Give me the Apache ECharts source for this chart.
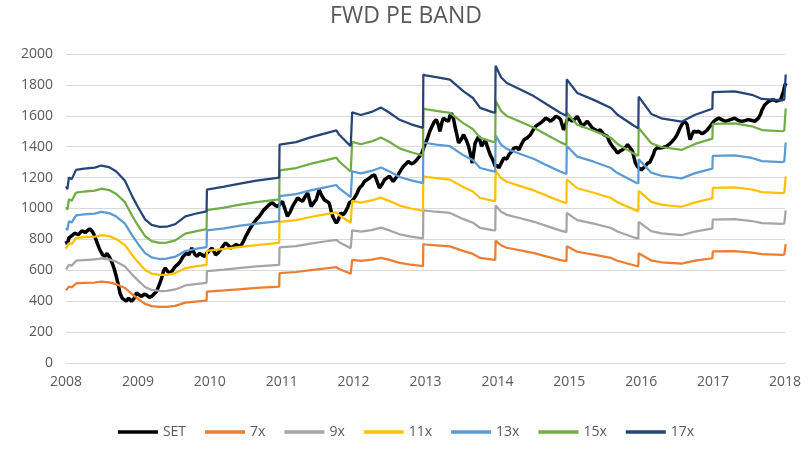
<!DOCTYPE html>
<html>
<head>
<meta charset="utf-8">
<script src="https://cdn.jsdelivr.net/npm/echarts@6/dist/echarts.min.js"></script>
<style>html,body{margin:0;padding:0;background:#fff}#c{width:812px;height:452px}</style>
</head>
<body>
<div id="c"></div>
<script>
const epsX = [2008.00,2008.02,2008.04,2008.08,2008.14,2008.25,2008.40,2008.49,2008.60,2008.70,2008.82,2008.92,2009.00,2009.10,2009.19,2009.30,2009.40,2009.52,2009.66,2009.80,2009.955,2009.96,2010.20,2010.40,2010.65,2010.965,2010.97,2011.20,2011.40,2011.62,2011.76,2011.80,2011.96,2011.975,2011.98,2012.10,2012.25,2012.38,2012.50,2012.64,2012.80,2012.965,2012.97,2013.00,2013.15,2013.34,2013.53,2013.66,2013.76,2013.93,2013.97,2013.975,2014.05,2014.13,2014.32,2014.51,2014.69,2014.88,2014.96,2014.965,2015.11,2015.34,2015.58,2015.67,2015.91,2015.96,2015.965,2016.14,2016.28,2016.56,2016.75,2016.99,2016.995,2017.30,2017.54,2017.68,2017.96,2017.99,2018.01];
const eps  = [67.2,66.2,70.6,70.0,73.5,74.0,74.4,75.2,74.6,72.9,69.4,63.5,59.4,54.7,52.6,51.8,51.9,52.9,55.8,56.8,57.7,66.0,67.1,68.2,69.4,70.6,83.1,84.1,85.9,87.5,88.6,86.9,82.5,82.4,95.4,94.4,95.6,97.3,95.3,92.6,90.9,89.5,109.8,109.5,108.8,107.9,103.4,100.9,97.1,95.5,95.3,113.2,108.8,106.6,104.1,101.5,98.4,95.2,94.1,108.0,102.8,100.2,97.1,94.5,90.1,89.4,101.4,94.8,93.2,91.9,94.5,96.8,103.1,103.4,102.1,100.5,100.0,100.3,109.8];
const multiples = [7, 9, 11, 13, 15, 17];

// SET index (decimal year, level)
const setX = [2008.00,2008.02,2008.04,2008.07,2008.12,2008.17,2008.22,2008.27,2008.33,2008.37,2008.40,2008.44,2008.47,2008.51,2008.54,2008.57,2008.61,2008.64,2008.67,2008.70,2008.73,2008.75,2008.78,2008.80,2008.84,2008.87,2008.91,2008.95,2008.98,2009.02,2009.05,2009.09,2009.12,2009.16,2009.19,2009.23,2009.26,2009.30,2009.33,2009.36,2009.38,2009.42,2009.45,2009.49,2009.52,2009.56,2009.59,2009.63,2009.68,2009.71,2009.75,2009.79,2009.82,2009.86,2009.89,2009.93,2009.96,2010.00,2010.03,2010.06,2010.08,2010.12,2010.15,2010.19,2010.22,2010.26,2010.29,2010.33,2010.36,2010.40,2010.43,2010.47,2010.50,2010.55,2010.60,2010.65,2010.69,2010.75,2010.80,2010.84,2010.87,2010.91,2010.94,2010.98,2011.01,2011.05,2011.08,2011.12,2011.15,2011.19,2011.22,2011.26,2011.29,2011.33,2011.36,2011.39,2011.41,2011.45,2011.48,2011.52,2011.55,2011.59,2011.63,2011.66,2011.69,2011.71,2011.74,2011.76,2011.79,2011.82,2011.86,2011.89,2011.92,2011.94,2011.98,2012.01,2012.05,2012.08,2012.12,2012.15,2012.20,2012.25,2012.29,2012.33,2012.36,2012.40,2012.43,2012.47,2012.50,2012.55,2012.59,2012.62,2012.66,2012.69,2012.73,2012.76,2012.80,2012.83,2012.87,2012.90,2012.95,2012.99,2013.02,2013.06,2013.09,2013.12,2013.15,2013.18,2013.20,2013.23,2013.25,2013.29,2013.32,2013.34,2013.36,2013.39,2013.41,2013.44,2013.46,2013.50,2013.53,2013.57,2013.60,2013.63,2013.65,2013.67,2013.69,2013.74,2013.78,2013.80,2013.83,2013.86,2013.90,2013.94,2013.97,2014.00,2014.02,2014.06,2014.09,2014.13,2014.16,2014.20,2014.23,2014.27,2014.30,2014.34,2014.37,2014.42,2014.46,2014.50,2014.53,2014.57,2014.60,2014.64,2014.67,2014.71,2014.74,2014.78,2014.81,2014.85,2014.88,2014.92,2014.94,2014.97,2015.00,2015.04,2015.08,2015.11,2015.15,2015.18,2015.22,2015.25,2015.29,2015.32,2015.36,2015.39,2015.43,2015.48,2015.53,2015.56,2015.60,2015.64,2015.67,2015.70,2015.74,2015.78,2015.81,2015.85,2015.88,2015.90,2015.92,2015.95,2015.97,2016.00,2016.02,2016.05,2016.09,2016.12,2016.14,2016.17,2016.19,2016.23,2016.26,2016.30,2016.35,2016.40,2016.43,2016.47,2016.50,2016.54,2016.59,2016.62,2016.64,2016.66,2016.68,2016.70,2016.73,2016.77,2016.80,2016.84,2016.87,2016.91,2016.94,2016.98,2017.01,2017.04,2017.08,2017.12,2017.17,2017.21,2017.24,2017.27,2017.30,2017.35,2017.40,2017.45,2017.49,2017.54,2017.58,2017.63,2017.66,2017.68,2017.72,2017.77,2017.80,2017.84,2017.88,2017.91,2017.94,2017.96,2017.98,2018.00,2018.02];
const setY = [790,770,810,820,840,830,855,845,869,850,820,770,733,700,690,710,680,650,610,560,500,453,420,410,400,420,399,420,453,440,431,445,440,425,431,450,463,510,550,600,615,590,582,605,625,640,658,690,712,700,744,705,690,710,700,690,712,730,744,720,700,715,733,760,777,760,744,755,766,760,755,790,820,863,900,930,949,990,1013,1030,1036,1020,1013,1030,1046,990,949,980,1013,1045,1068,1055,1046,1080,1100,1050,1013,1040,1057,1122,1090,1057,1045,1036,980,949,920,906,930,971,960,982,1010,1036,1050,1068,1100,1133,1150,1175,1190,1208,1219,1170,1133,1160,1186,1200,1208,1175,1200,1219,1250,1272,1290,1305,1290,1294,1310,1327,1359,1413,1445,1500,1531,1560,1575,1540,1500,1560,1585,1570,1565,1600,1618,1580,1531,1470,1424,1450,1478,1440,1402,1340,1294,1360,1424,1467,1402,1420,1445,1400,1348,1310,1272,1280,1262,1300,1327,1320,1348,1370,1391,1395,1380,1420,1445,1460,1478,1510,1531,1545,1553,1570,1585,1575,1565,1580,1596,1590,1575,1510,1525,1575,1580,1565,1580,1596,1560,1531,1550,1565,1540,1521,1510,1500,1510,1478,1467,1430,1402,1380,1359,1370,1380,1395,1413,1390,1370,1330,1294,1270,1262,1250,1240,1270,1294,1300,1305,1350,1380,1395,1391,1395,1402,1420,1434,1455,1478,1521,1564,1555,1542,1490,1445,1470,1500,1495,1500,1485,1489,1505,1521,1545,1564,1575,1585,1575,1564,1570,1575,1580,1585,1570,1564,1570,1575,1570,1564,1585,1610,1639,1672,1693,1700,1704,1695,1700,1705,1710,1760,1801,1810];

const seriesNames = ['SET', '7x', '9x', '11x', '13x', '15x', '17x'];
const seriesColors = ['#000000', '#ED7D31', '#A5A5A5', '#FFC000', '#5B9BD5', '#70AD47', '#264478'];
const yTicks = { min: 0, max: 2000, step: 200 };
const xTicks = { min: 2008, max: 2018, step: 1 };

const FONT = '"Open Sans", "Liberation Sans", sans-serif';
const series = [{
  name: 'SET', type: 'line', symbol: 'none', showSymbol: false, z: 2,
  data: setX.map((x, i) => [x, setY[i]]),
  lineStyle: { color: seriesColors[0], width: 3.5 }, itemStyle: { color: seriesColors[0] }
}];
multiples.forEach((m, k) => {
  series.push({
    name: seriesNames[k + 1], type: 'line', symbol: 'none', showSymbol: false, z: 3,
    data: epsX.map((x, i) => [x, Math.round(eps[i] * m)]),
    lineStyle: { color: seriesColors[k + 1], width: 2.25 }, itemStyle: { color: seriesColors[k + 1] }
  });
});

const chart = echarts.init(document.getElementById('c'), null, { renderer: 'canvas' });
chart.setOption({
  animation: false,
  backgroundColor: '#ffffff',
  title: {
    text: 'FWD PE BAND', left: 'center', top: 0,
    textStyle: { fontFamily: FONT, fontSize: 23, fontWeight: 'normal', color: '#595959' }
  },
  legend: {
    data: seriesNames.map(n => ({ name: n, icon: 'rect' })),
    bottom: 8, left: 'center', itemWidth: 40, itemHeight: 3.5, itemGap: 19,
    textStyle: { fontFamily: FONT, fontSize: 14, color: '#595959' }
  },
  grid: { left: 66, right: 27, top: 54, bottom: 89, containLabel: false },
  xAxis: {
    type: 'value', min: xTicks.min, max: xTicks.max, interval: xTicks.step,
    axisLine: { show: true, lineStyle: { color: '#D9D9D9' } },
    axisTick: { show: false },
    splitLine: { show: false },
    axisLabel: { margin: 12, fontFamily: FONT, fontSize: 14, color: '#595959', formatter: v => String(Math.round(v)) }
  },
  yAxis: {
    type: 'value', min: yTicks.min, max: yTicks.max, interval: yTicks.step,
    axisLine: { show: false }, axisTick: { show: false },
    splitLine: { lineStyle: { color: '#D9D9D9', width: 1 } },
    axisLabel: { margin: 13, fontFamily: FONT, fontSize: 14, color: '#595959', formatter: v => String(v) }
  },
  series: series
});
</script>
</body>
</html>
